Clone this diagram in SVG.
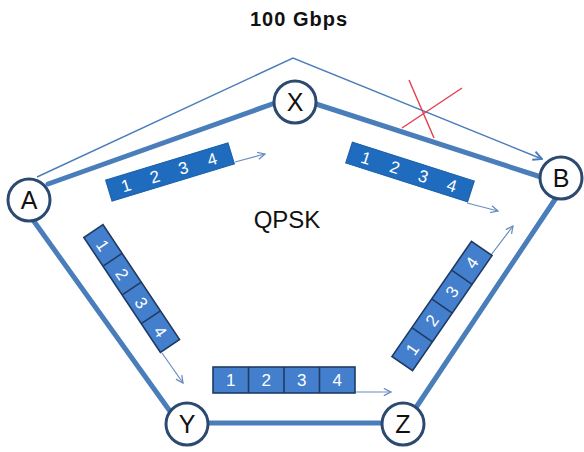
<svg xmlns="http://www.w3.org/2000/svg" width="584" height="452" viewBox="0 0 584 452">
<defs>
<marker id="open" viewBox="0 0 10 10" refX="9" refY="5" markerWidth="9" markerHeight="9" markerUnits="userSpaceOnUse" orient="auto">
<path d="M1,1 L9,5 L1,9" fill="none" stroke="#6A8BBF" stroke-width="1.4"/>
</marker>
<marker id="openB" viewBox="0 0 10 10" refX="9" refY="5" markerWidth="11" markerHeight="11" markerUnits="userSpaceOnUse" orient="auto">
<path d="M1,1 L9,5 L1,9" fill="none" stroke="#4A7EBB" stroke-width="1.8"/>
</marker>
</defs>
<style>
.link{stroke:#4A7EBB;stroke-width:5;fill:none;stroke-linecap:round}
.thin{stroke:#4A7EBB;stroke-width:1.4;fill:none}
.arr{stroke:#6A8BBF;stroke-width:1.2;fill:none}
.red{stroke:#E43D4A;stroke-width:1.4}
.node circle{fill:#fff;stroke:#2C4A70;stroke-width:3}
.node text{font-family:"Liberation Sans",Arial,sans-serif;font-size:25px;fill:#111;text-anchor:middle}
.solid{fill:#1F6CBE;stroke:#1A5EA8;stroke-width:1}
.cell{fill:#437FCC;stroke:#1F3B63;stroke-width:1.6}
.div{stroke:#1F3B63;stroke-width:1.6}
.num{font-family:"Liberation Sans",Arial,sans-serif;font-size:17px;fill:#fff;text-anchor:middle}
.lbl{font-family:"Liberation Sans",Arial,sans-serif;fill:#111;text-anchor:middle}
</style>
<rect width="584" height="452" fill="#fff"/>
<text class="lbl" x="299" y="26" font-size="20" font-weight="bold" letter-spacing="1">100 Gbps</text>
<text class="lbl" x="287" y="228" font-size="24">QPSK</text>
<g id="connectors">
<line class="link" x1="48" y1="184" x2="275" y2="103"/>
<line class="link" x1="316" y1="104" x2="541" y2="177"/>
<line class="link" x1="556" y1="198" x2="417" y2="406"/>
<line class="link" x1="205" y1="423" x2="385" y2="423"/>
<line class="link" x1="33" y1="220" x2="172" y2="414"/>
<polyline class="thin" points="37,177 293,58 542,159" marker-end="url(#openB)"/>
<line class="arr" x1="235" y1="162" x2="265" y2="154" marker-end="url(#open)"/>
<line class="arr" x1="467" y1="203" x2="498" y2="211" marker-end="url(#open)"/>
<line class="arr" x1="162" y1="353" x2="183" y2="383" marker-end="url(#open)"/>
<line class="arr" x1="355" y1="392" x2="391" y2="392" marker-end="url(#open)"/>
<line class="arr" x1="491" y1="255" x2="513" y2="226" marker-end="url(#open)"/>
</g>
<g id="cut">
<line class="red" x1="409" y1="80" x2="434" y2="138"/>
<line class="red" x1="462" y1="88" x2="402" y2="128"/>
</g>
<g id="block-AX" transform="translate(170,172) rotate(-17)">
<rect class="solid" x="-64" y="-11" width="128" height="22"/>
<text class="num" x="-46" y="6">1</text><text class="num" x="-16" y="6">2</text><text class="num" x="14" y="6">3</text><text class="num" x="44" y="6">4</text>
</g>
<g id="block-XB" transform="translate(410,172) rotate(17.7)">
<rect class="solid" x="-64" y="-11" width="128" height="22"/>
<text class="num" x="-46" y="6">1</text><text class="num" x="-16" y="6">2</text><text class="num" x="14" y="6">3</text><text class="num" x="44" y="6">4</text>
</g>
<g id="block-AY" transform="translate(131.7,288.5) rotate(56.3)">
<rect class="cell" x="-69" y="-11.5" width="138" height="23"/>
<line class="div" x1="-34.5" y1="-11.5" x2="-34.5" y2="11.5"/><line class="div" x1="0" y1="-11.5" x2="0" y2="11.5"/><line class="div" x1="34.5" y1="-11.5" x2="34.5" y2="11.5"/>
<text class="num" x="-51.75" y="6">1</text><text class="num" x="-17.25" y="6">2</text><text class="num" x="17.25" y="6">3</text><text class="num" x="51.75" y="6">4</text>
</g>
<g id="block-YZ" transform="translate(284,380)">
<rect class="cell" x="-71" y="-13" width="142" height="26"/>
<line class="div" x1="-35.5" y1="-13" x2="-35.5" y2="13"/><line class="div" x1="0" y1="-13" x2="0" y2="13"/><line class="div" x1="35.5" y1="-13" x2="35.5" y2="13"/>
<text class="num" x="-53.25" y="6">1</text><text class="num" x="-17.75" y="6">2</text><text class="num" x="17.75" y="6">3</text><text class="num" x="53.25" y="6">4</text>
</g>
<g id="block-ZB" transform="translate(442,306) rotate(-55.4)">
<rect class="cell" x="-70" y="-12.5" width="140" height="25"/>
<line class="div" x1="-35" y1="-12.5" x2="-35" y2="12.5"/><line class="div" x1="0" y1="-12.5" x2="0" y2="12.5"/><line class="div" x1="35" y1="-12.5" x2="35" y2="12.5"/>
<text class="num" x="-52.5" y="6">1</text><text class="num" x="-17.5" y="6">2</text><text class="num" x="17.5" y="6">3</text><text class="num" x="52.5" y="6">4</text>
</g>
<g id="node-X" class="node"><circle cx="295" cy="102" r="21"/><text x="295" y="111">X</text></g>
<g id="node-A" class="node"><circle cx="29" cy="200" r="21"/><text x="29" y="209">A</text></g>
<g id="node-B" class="node"><circle cx="561" cy="178" r="21"/><text x="561" y="187">B</text></g>
<g id="node-Y" class="node"><circle cx="187" cy="424" r="21"/><text x="187" y="433">Y</text></g>
<g id="node-Z" class="node"><circle cx="403" cy="424" r="21"/><text x="403" y="433">Z</text></g>
</svg>
